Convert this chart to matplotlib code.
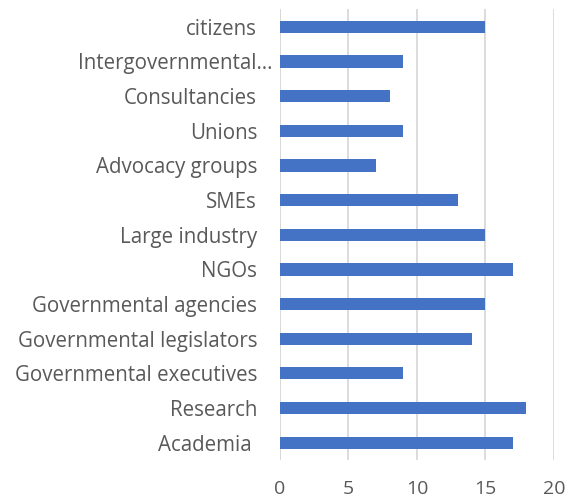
import matplotlib
matplotlib.use("Agg")
import matplotlib.pyplot as plt
from matplotlib.transforms import ScaledTranslation

categories = ["Academia ", "Research", "Governmental executives", "Governmental legislators",
              "Governmental agencies", "NGOs", "Large industry", "SMEs", "Advocacy groups",
              "Unions", "Consultancies", "Intergovernmental…", "citizens"]
values = [17, 18, 9, 14, 15, 17, 15, 13, 7, 9, 8, 9, 15]
x_ticks = [0, 5, 10, 15, 20]

plt.rcParams['font.family'] = ['Open Sans', 'DejaVu Sans']

fig = plt.figure(figsize=(5.68, 4.99), dpi=100)
ax = fig.add_axes([0.493, 0.078, 0.482, 0.903])

ypos = list(range(len(categories)))
ax.barh(ypos, values, height=0.35, color="#4472C4", zorder=3)

ax.set_xlim(0, 20)
ax.set_ylim(-0.5, len(categories) - 0.5)
ax.set_xticks(x_ticks)
ax.set_xticklabels([str(t) for t in x_ticks])
ax.set_yticks(ypos)
ax.set_yticklabels(categories)

ax.xaxis.grid(True, color="#d9d9d9", linewidth=1.3, zorder=0)
ax.set_axisbelow(True)
for s in ax.spines.values():
    s.set_visible(False)
ax.axvline(0, color="#d9d9d9", linewidth=1.3, zorder=1)

ax.tick_params(axis="both", length=0, colors="#595959", labelsize=14.8)
ax.tick_params(axis="x", pad=14, labelsize=14)
ax.tick_params(axis="y", pad=16.5)

# the truncated long label hangs slightly further right
for lbl in ax.get_yticklabels():
    if lbl.get_text().endswith("…"):
        lbl.set_transform(lbl.get_transform() + ScaledTranslation(15 / 100, 0, fig.dpi_scale_trans))

fig.savefig("out.png", dpi=100)
